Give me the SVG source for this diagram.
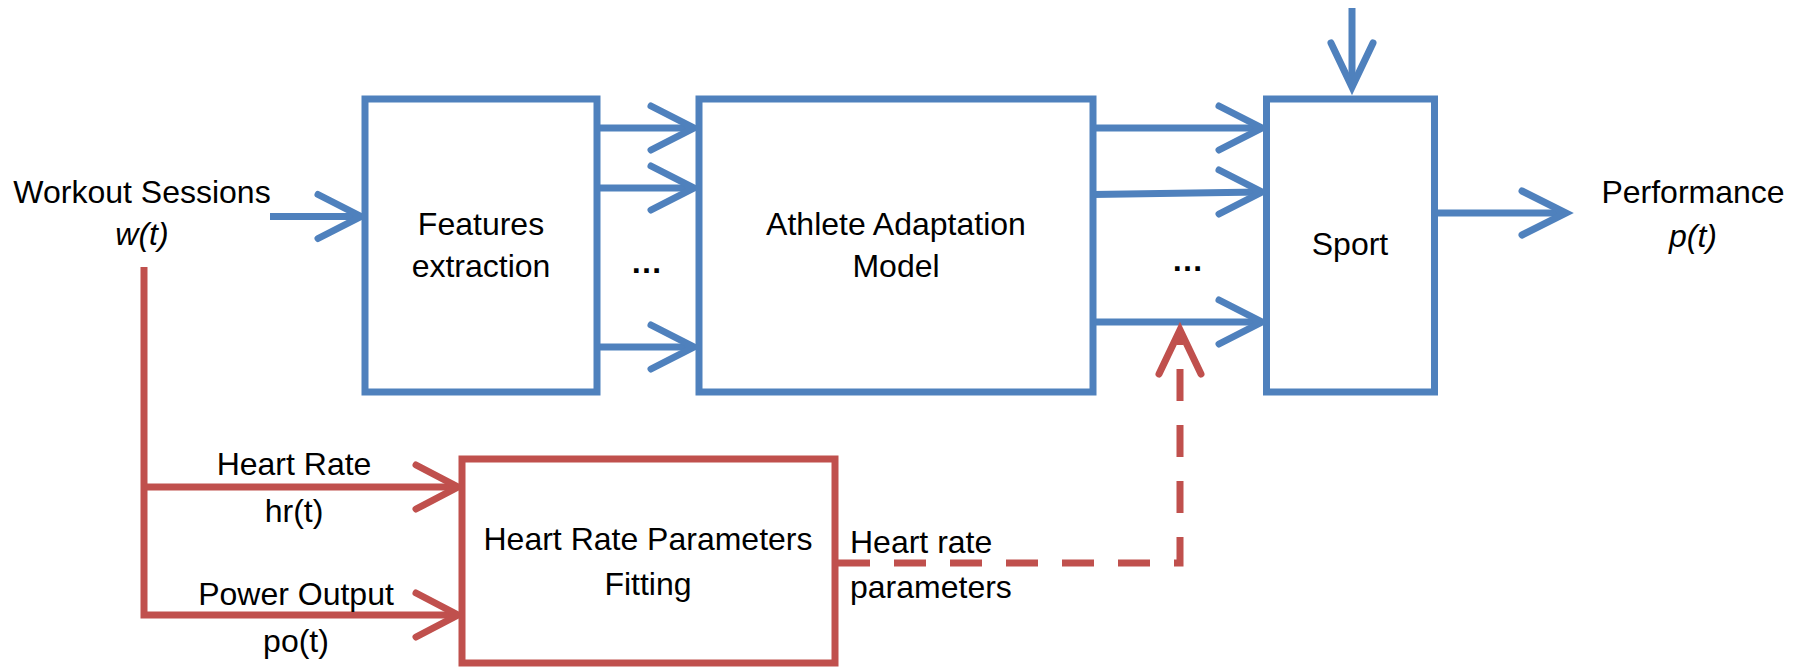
<svg xmlns="http://www.w3.org/2000/svg" width="1808" height="668" viewBox="0 0 1808 668">
  <style>
    .box-blue { fill: #FFFFFF; stroke: #4F81BD; stroke-width: 7; }
    .box-red { fill: #FFFFFF; stroke: #C0504D; stroke-width: 7; }
    .line-blue { fill: none; stroke: #4F81BD; stroke-width: 7; }
    .line-red { fill: none; stroke: #C0504D; stroke-width: 7; stroke-linejoin: miter; }
    .dash-red { fill: none; stroke: #C0504D; stroke-width: 7; stroke-dasharray: 32 24; stroke-linejoin: miter; }
    .head-blue { fill: none; stroke: #4F81BD; stroke-width: 7; stroke-linecap: round; stroke-linejoin: miter; }
    .head-red { fill: none; stroke: #C0504D; stroke-width: 7; stroke-linecap: round; stroke-linejoin: miter; }
    text { font-family: "Liberation Sans", Arial, sans-serif; font-size: 32px; fill: #000000; }
    .mid { text-anchor: middle; }
    .it { font-style: italic; }
    .dots { font-weight: bold; }
  </style>
  <rect width="1808" height="668" fill="#FFFFFF"/>

  <!-- connectors -->
  <g id="connectors">
    <!-- workout sessions into features -->
    <line class="line-blue" x1="270" y1="216.5" x2="358" y2="216.5"/>
    <polyline class="head-blue" points="318,194.5 361,216.5 318,238.5"/>

    <!-- features to athlete model -->
    <line class="line-blue" x1="597" y1="128" x2="692" y2="128"/>
    <polyline class="head-blue" points="651,106 694,128 651,150"/>
    <line class="line-blue" x1="597" y1="188" x2="692" y2="188"/>
    <polyline class="head-blue" points="651,166 694,188 651,210"/>
    <line class="line-blue" x1="597" y1="347" x2="692" y2="347"/>
    <polyline class="head-blue" points="651,325 694,347 651,369"/>

    <!-- athlete model to sport -->
    <line class="line-blue" x1="1093" y1="128" x2="1260" y2="128"/>
    <polyline class="head-blue" points="1219,106 1262,128 1219,150"/>
    <line class="line-blue" x1="1093" y1="194.5" x2="1260" y2="192"/>
    <polyline class="head-blue" points="1219,170 1262,192 1219,214"/>
    <line class="line-blue" x1="1093" y1="322" x2="1260" y2="322"/>
    <polyline class="head-blue" points="1219,300 1262,322 1219,344"/>

    <!-- external input into sport -->
    <line class="line-blue" x1="1352" y1="8" x2="1352" y2="84"/>
    <polyline class="head-blue" points="1331,43 1352,87 1373,43"/>

    <!-- sport to performance -->
    <line class="line-blue" x1="1438" y1="213" x2="1563" y2="213"/>
    <polyline class="head-blue" points="1522,191 1566,213 1522,235"/>

    <!-- workout sessions split into heart rate and power output -->
    <path class="line-red" d="M144,267 V615 H455"/>
    <line class="line-red" x1="144" y1="487" x2="455" y2="487"/>
    <polyline class="head-red" points="416,465 458,487 416,509"/>
    <polyline class="head-red" points="416,593 458,615 416,637"/>

    <!-- fitted heart rate parameters feed the sport block -->
    <path class="dash-red" d="M838,563 H1180 V330"/>
    <polyline class="head-red" points="1159,374 1180,330 1201,374"/>
  </g>

  <!-- nodes -->
  <g id="workout-sessions">
    <text class="mid" x="142" y="203">Workout Sessions</text>
    <text class="mid it" x="142" y="245">w(t)</text>
  </g>

  <g id="features-extraction">
    <rect class="box-blue" x="365" y="99" width="232" height="293"/>
    <text class="mid" x="481" y="235">Features</text>
    <text class="mid" x="481" y="277">extraction</text>
  </g>

  <text id="features-ellipsis" class="mid dots" x="646.5" y="273">…</text>

  <g id="athlete-adaptation-model">
    <rect class="box-blue" x="699" y="99" width="394" height="293"/>
    <text class="mid" x="896" y="235">Athlete Adaptation</text>
    <text class="mid" x="896" y="277">Model</text>
  </g>

  <text id="model-ellipsis" class="mid dots" x="1187.5" y="271">…</text>

  <g id="sport">
    <rect class="box-blue" x="1266.5" y="99" width="168" height="293"/>
    <text class="mid" x="1350" y="255">Sport</text>
  </g>

  <g id="performance">
    <text class="mid" x="1693" y="203">Performance</text>
    <text class="mid it" x="1693" y="247">p(t)</text>
  </g>

  <g id="heart-rate-input">
    <text class="mid" x="294" y="475">Heart Rate</text>
    <text class="mid" x="294" y="522">hr(t)</text>
  </g>

  <g id="power-output-input">
    <text class="mid" x="296" y="605">Power Output</text>
    <text class="mid" x="296" y="652">po(t)</text>
  </g>

  <g id="heart-rate-parameters-fitting">
    <rect class="box-red" x="462" y="459" width="373" height="204"/>
    <text class="mid" x="648" y="550">Heart Rate Parameters</text>
    <text class="mid" x="648" y="595">Fitting</text>
  </g>

  <g id="heart-rate-parameters">
    <text x="850" y="553">Heart rate</text>
    <text x="850" y="598">parameters</text>
  </g>
</svg>
